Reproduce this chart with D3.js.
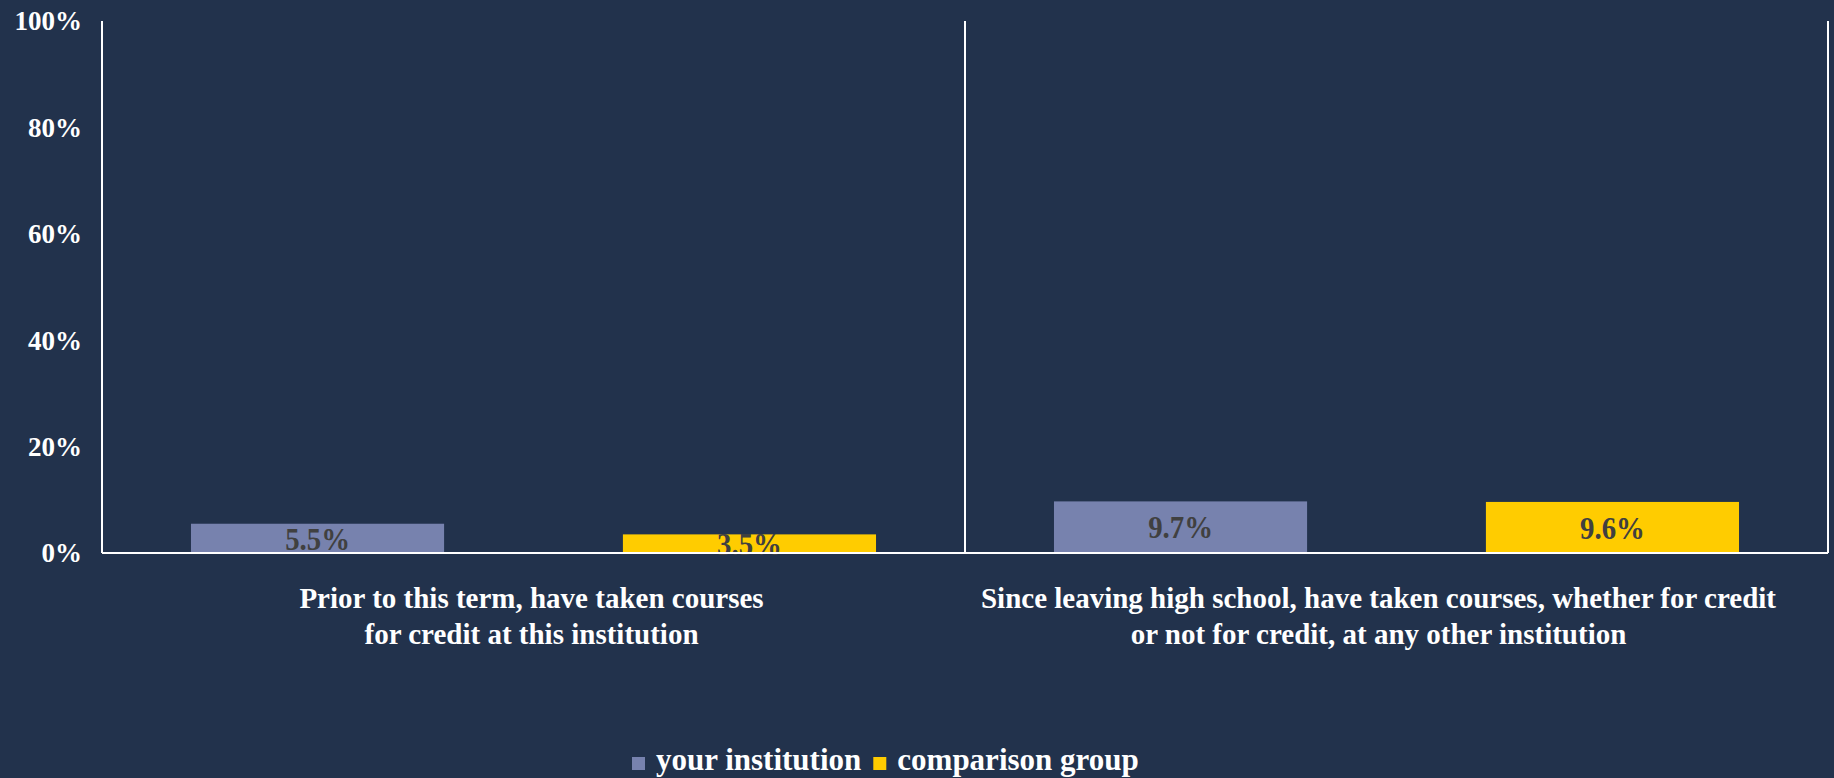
<!DOCTYPE html>
<html lang="en">
<head>
    <meta charset="UTF-8">
    <title>Courses taken elsewhere</title>
    <script src="https://d3js.org/d3.v7.min.js"></script>
    <style>
        body {
            margin: 0;
            background: #22324c;
        }
        svg text {
            font-family: "Liberation Serif", "Times New Roman", serif;
            font-weight: bold;
        }
        .tick_label {
            fill: #ffffff;
            font-size: 27px;
        }
        .cat_label {
            fill: #ffffff;
            font-size: 29px;
        }
        .value_label {
            fill: #404040;
            font-size: 32px;
        }
        .legend_text {
            fill: #ffffff;
            font-size: 31px;
        }
    </style>
</head>
<body>
<svg width="1834" height="778"></svg>

<script>
    // data
    const categories = ["prior_here", "since_hs_other"];
    const categoryLines = [
        ["Prior to this term, have taken courses", "for credit at this institution"],
        ["Since leaving high school, have taken courses, whether for credit", "or not for credit, at any other institution"]
    ];
    const seriesNames = ["your institution", "comparison group"];
    const yourInstitution = [5.5, 9.7];
    const comparisonGroup = [3.5, 9.6];
    const yTicks = [0, 20, 40, 60, 80, 100];

    const colors = ["#7782ae", "#ffcc00"];

    const W = 1834, H = 778;
    const margin = {top: 21, right: 6, bottom: 225, left: 102};
    const innerW = W - margin.left - margin.right;
    const innerH = H - margin.top - margin.bottom;

    let svg = d3.select("svg");
    svg.append("rect").attr("width", W).attr("height", H).attr("fill", "#22324c");

    const g = svg.append("g").attr("transform", `translate(${margin.left},${margin.top})`);

    const x0 = d3.scaleBand().domain(categories).range([0, innerW]).padding(0);
    const x1 = d3.scaleBand().domain(seriesNames).range([0, x0.bandwidth()])
        .paddingInner(0.414).paddingOuter(0.206);
    const y = d3.scaleLinear().domain([0, 100]).range([innerH, 0]);

    // rows for the grouped bars
    const rows = categories.map((c, i) => ({
        cat: c,
        values: [
            {series: seriesNames[0], value: yourInstitution[i]},
            {series: seriesNames[1], value: comparisonGroup[i]}
        ]
    }));

    // bars
    const groups = g.selectAll(".grp").data(rows).enter().append("g")
        .attr("class", "grp")
        .attr("transform", d => `translate(${x0(d.cat)},0)`);

    groups.selectAll("rect").data(d => d.values).enter().append("rect")
        .attr("x", d => x1(d.series))
        .attr("y", d => y(d.value))
        .attr("width", x1.bandwidth())
        .attr("height", d => innerH - y(d.value))
        .attr("fill", (d, i) => colors[i]);

    // y axis labels
    g.selectAll(".tick_label").data(yTicks).enter().append("text")
        .attr("class", "tick_label")
        .attr("x", -20)
        .attr("y", d => y(d))
        .attr("dy", "0.35em")
        .attr("text-anchor", "end")
        .text(d => d + "%");

    // axis lines and category dividers
    const lineColor = "#ffffff";
    g.append("line").attr("x1", 0).attr("x2", 0).attr("y1", 0).attr("y2", innerH)
        .attr("stroke", lineColor).attr("stroke-width", 2);
    g.append("line").attr("x1", 0).attr("x2", innerW).attr("y1", innerH).attr("y2", innerH)
        .attr("stroke", lineColor).attr("stroke-width", 2);
    categories.forEach(c => {
        const xr = x0(c) + x0.bandwidth();
        g.append("line").attr("x1", xr).attr("x2", xr).attr("y1", 0).attr("y2", innerH)
            .attr("stroke", lineColor).attr("stroke-width", 2);
    });

    // value labels, centred in each bar
    groups.selectAll(".value_label").data(d => d.values).enter().append("text")
        .attr("class", "value_label")
        .attr("text-anchor", "middle")
        .attr("transform", d => {
            let cx = x1(d.series) + x1.bandwidth() / 2;
            let cy = (y(d.value) + innerH) / 2;
            return `translate(${cx},${cy}) scale(0.9,1)`;
        })
        .attr("dy", "0.35em")
        .text(d => d.value.toFixed(1) + "%");

    // category labels (two lines each)
    const labelShift = [-2, -18];
    categories.forEach((c, i) => {
        const t = g.append("text").attr("class", "cat_label")
            .attr("text-anchor", "middle")
            .attr("x", x0(c) + x0.bandwidth() / 2 + labelShift[i])
            .attr("y", innerH + 55);
        categoryLines[i].forEach((line, k) => {
            t.append("tspan")
                .attr("x", x0(c) + x0.bandwidth() / 2 + labelShift[i])
                .attr("dy", k === 0 ? 0 : 36)
                .text(line);
        });
    });

    // legend
    const legend = svg.append("g").attr("transform", "translate(632,770)");
    let lx = 0;
    seriesNames.forEach((name, i) => {
        legend.append("rect").attr("x", lx).attr("y", -13).attr("width", 13).attr("height", 13)
            .attr("fill", colors[i]);
        const t = legend.append("text").attr("class", "legend_text")
            .attr("x", lx + 24).attr("y", 0).text(name);
        lx += 24 + t.node().getComputedTextLength() + 12;
    });
</script>
</body>
</html>
